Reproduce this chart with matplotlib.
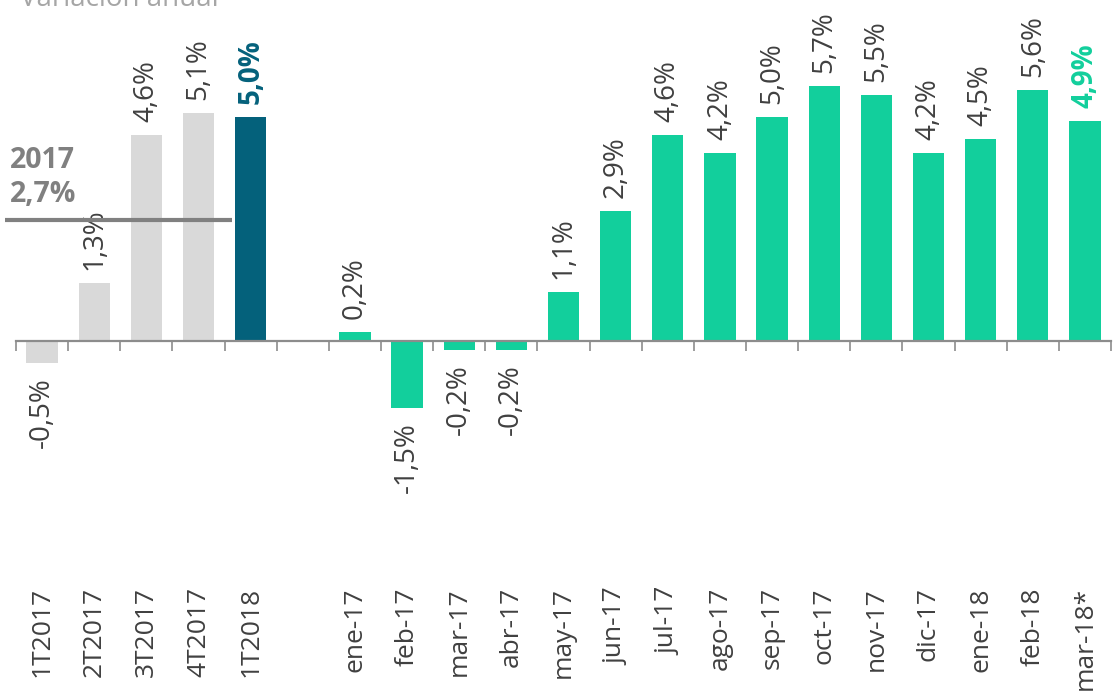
import numpy as np
import matplotlib
matplotlib.use("Agg")
import matplotlib.pyplot as plt
import matplotlib.transforms as mtransforms

plt.rcParams['font.family'] = ['Open Sans', 'DejaVu Sans']

categories = ["1T2017", "2T2017", "3T2017", "4T2017", "1T2018", "",
              "ene-17", "feb-17", "mar-17", "abr-17", "may-17", "jun-17",
              "jul-17", "ago-17", "sep-17", "oct-17", "nov-17", "dic-17",
              "ene-18", "feb-18", "mar-18*"]
values = [-0.5, 1.3, 4.6, 5.1, 5.0, np.nan,
          0.2, -1.5, -0.2, -0.2, 1.1, 2.9,
          4.6, 4.2, 5.0, 5.7, 5.5, 4.2,
          4.5, 5.6, 4.9]
avg_2017 = 2.7
title = "Variación anual"

GRAY = "#D9D9D9"
TEAL = "#04617B"
GREEN = "#12CF9C"
TXT = "#404040"
AX = "#8C8C8C"

colors = [GRAY, GRAY, GRAY, GRAY, TEAL, GRAY] + [GREEN] * 15
bold_idx = {4: TEAL, 20: GREEN}

W, H = 1114, 691
fig = plt.figure(figsize=(W / 100, H / 100), dpi=100)
ax = fig.add_axes([16 / W, 0, 1095 / W, 1])

x = np.arange(len(categories))
ax.bar(x, values, width=0.6, color=colors, zorder=2)

ax.set_xlim(-0.5, len(categories) - 0.5)
ppu = 44.8
ax.set_ylim((341 - H) / ppu, 341 / ppu)

for s in ["top", "right", "left"]:
    ax.spines[s].set_visible(False)
ax.spines["bottom"].set_position(("data", 0))
ax.spines["bottom"].set_color(AX)
ax.spines["bottom"].set_linewidth(1.6)
ax.set_yticks([])
ax.set_xticks(np.arange(len(categories) + 1) - 0.5)
ax.set_xticklabels([])
ax.tick_params(axis="x", direction="out", length=7, width=1.2, color=AX)

# category labels at the bottom
trans = mtransforms.blended_transform_factory(ax.transData, fig.transFigure)
for xi, lab in zip(x, categories):
    ax.text(xi, 1 - 587 / H, lab, transform=trans, rotation=90,
            ha="center", va="top", fontsize=19, color=TXT)

# value labels
off = mtransforms.offset_copy
for xi, v in zip(x, values):
    if np.isnan(v):
        continue
    lab = f"{v:.1f}%".replace(".", ",")
    if xi in bold_idx:
        c, fw = bold_idx[xi], "bold"
    else:
        c, fw = TXT, "normal"
    if v >= 0:
        t = off(ax.transData, fig=fig, x=0, y=13, units="dots")
        va = "bottom"
    else:
        t = off(ax.transData, fig=fig, x=0, y=-14, units="dots")
        va = "top"
    ax.text(xi, v, lab, transform=t, rotation=90, ha="center", va=va,
            fontsize=20, color=c, fontweight=fw)

# 2017 average line
ax.plot([-0.71, 3.65], [avg_2017, avg_2017], color="#808080", lw=3,
        solid_capstyle="butt", zorder=3, clip_on=False)
ax.text(-0.62, avg_2017 + 0.25, "2017\n" + f"{avg_2017:.1f}%".replace(".", ","),
        ha="left", va="bottom", fontsize=20.5, fontweight="bold",
        color="#808080", linespacing=1.2)

fig.text(20 / W, 1 - 6 / H, title, ha="left", va="baseline",
         fontsize=20, color="#A6A6A6")

fig.savefig("out.png", dpi=100)
